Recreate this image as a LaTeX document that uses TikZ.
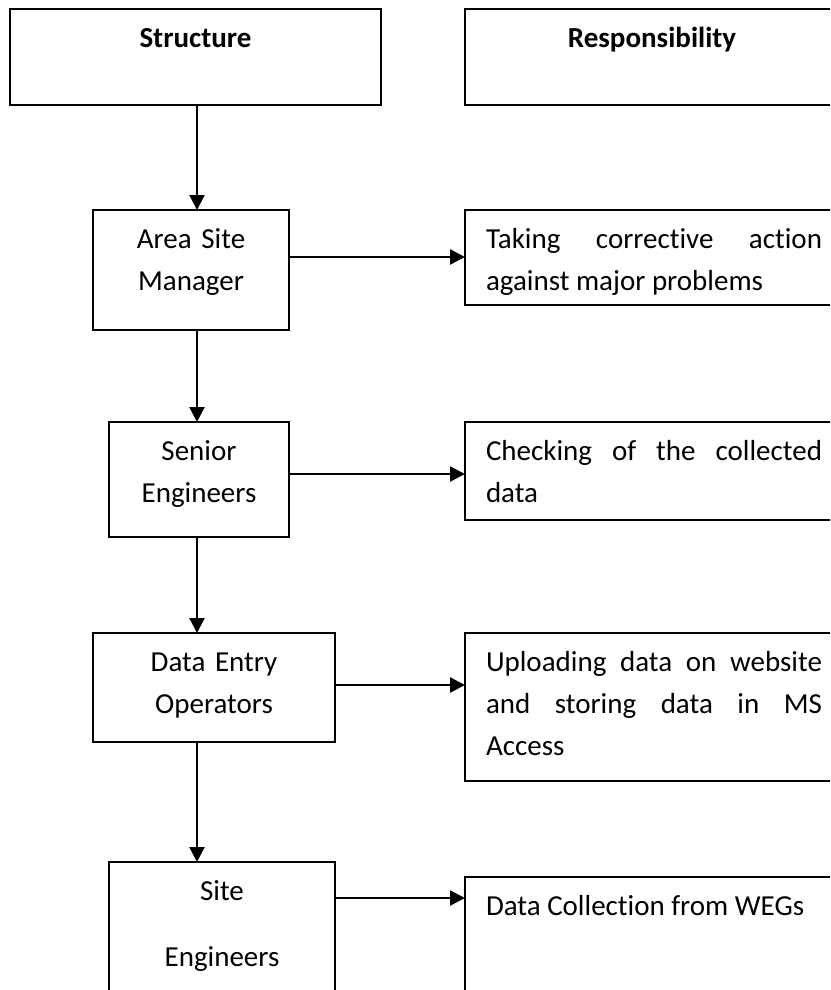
\documentclass[tikz,border=0pt]{standalone}
\usepackage{fontspec}
\setmainfont{Carlito}[Ligatures=NoCommon]
\usetikzlibrary{arrows.meta,positioning}

\begin{document}
\begin{tikzpicture}[
    x=0.5pt,y=-0.5pt,line width=1.15pt,
    flow/.style={-{Triangle[length=7.5pt,width=7.5pt]}},
    box/.style={draw,anchor=north west,outer sep=0pt,inner xsep=10.5pt,
      inner ysep=0pt,text height=19.25pt,font=\fontsize{14.5}{21}\selectfont},
    post/.style={box,align=center},
    duty/.style={box,align=justify,text width=168pt}
  ]
  \useasboundingbox (0,0) rectangle (830,990);
  \clip (0,0) rectangle (830,990);
  % column of arrows and the rows of the side arrows
  \coordinate (spine) at (197,0);
  \coordinate (r1) at (0,257);
  \coordinate (r2) at (0,474);
  \coordinate (r3) at (0,685);
  \coordinate (r4) at (0,898);

  % headings
  \node[post,text width=164.5pt,text depth=28.75pt] (struct) at (10,9) {\textbf{Structure}};
  \node[post,text width=166pt,text depth=28.75pt] (duties) at (465,9) {\textbf{Responsibility}};

  % posts
  \node[post,text width=77pt,text depth=40.75pt] (asm) at (93,210) {Area Site\\Manager};
  \node[post,text width=69pt,text depth=38.25pt] (seng) at (109,422) {Senior\\Engineers};
  \node[post,text width=100pt,text depth=35.25pt] (deo) at (93,633) {Data Entry\\Operators};
  \node[post,text width=92pt,text depth=60.75pt] (site) at (109,862) {Site\\[12pt]Engineers};

  % what each post does
  \node[duty,text depth=28.25pt] (asmduty) at (465,210)
    {Taking corrective action\linebreak against major problems};
  \node[duty,text depth=29.75pt] (sengduty) at (465,422)
    {Checking of the collected\linebreak data};
  \node[duty,text depth=54.75pt] (deoduty) at (465,633)
    {Uploading data on website\linebreak and storing data in MS\linebreak Access};
  \node[duty,text depth=55.75pt] (siteduty) at (465,877)
    {Data Collection from WEGs};

  \draw[flow] (struct.south -| spine) -- (asm.north -| spine);
  \draw[flow] (asm.south -| spine) -- (seng.north -| spine);
  \draw[flow] (seng.south -| spine) -- (deo.north -| spine);
  \draw[flow] (deo.south -| spine) -- (site.north -| spine);

  \draw[flow] (asm.east |- r1) -- (asmduty.west |- r1);
  \draw[flow] (seng.east |- r2) -- (sengduty.west |- r2);
  \draw[flow] (deo.east |- r3) -- (deoduty.west |- r3);
  \draw[flow] (site.east |- r4) -- (siteduty.west |- r4);
\end{tikzpicture}
\end{document}
